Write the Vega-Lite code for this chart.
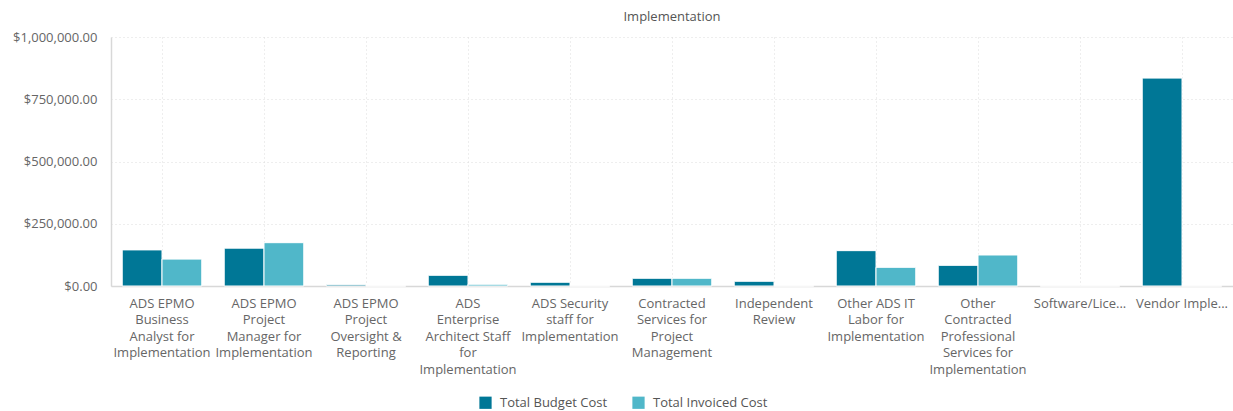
{
  "$schema": "https://vega.github.io/schema/vega-lite/v6.json",
  "autosize": {"type": "none"},
  "width": 1122,
  "height": 249,
  "padding": {"left": 111, "top": 37, "right": 0, "bottom": 125},
  "background": "white",
  "config": {
    "font": "Open Sans",
    "view": {"stroke": null}
  },
  "title": {
    "text": "Implementation",
    "anchor": "middle",
    "fontSize": 13,
    "fontWeight": "normal",
    "color": "#555555",
    "offset": 7
  },
  "data": {
    "values": [
      {"category": "ADS EPMO Business Analyst for Implementation", "series": "Total Budget Cost", "value": 145000},
      {"category": "ADS EPMO Business Analyst for Implementation", "series": "Total Invoiced Cost", "value": 108000},
      {"category": "ADS EPMO Project Manager for Implementation", "series": "Total Budget Cost", "value": 152000},
      {"category": "ADS EPMO Project Manager for Implementation", "series": "Total Invoiced Cost", "value": 174000},
      {"category": "ADS EPMO Project Oversight & Reporting", "series": "Total Budget Cost", "value": 5000},
      {"category": "ADS EPMO Project Oversight & Reporting", "series": "Total Invoiced Cost", "value": 0},
      {"category": "ADS Enterprise Architect Staff for Implementation", "series": "Total Budget Cost", "value": 43000},
      {"category": "ADS Enterprise Architect Staff for Implementation", "series": "Total Invoiced Cost", "value": 7000},
      {"category": "ADS Security staff for Implementation", "series": "Total Budget Cost", "value": 15000},
      {"category": "ADS Security staff for Implementation", "series": "Total Invoiced Cost", "value": 0},
      {"category": "Contracted Services for Project Management", "series": "Total Budget Cost", "value": 31000},
      {"category": "Contracted Services for Project Management", "series": "Total Invoiced Cost", "value": 31000},
      {"category": "Independent Review", "series": "Total Budget Cost", "value": 19000},
      {"category": "Independent Review", "series": "Total Invoiced Cost", "value": 0},
      {"category": "Other ADS IT Labor for Implementation", "series": "Total Budget Cost", "value": 142000},
      {"category": "Other ADS IT Labor for Implementation", "series": "Total Invoiced Cost", "value": 75000},
      {"category": "Other Contracted Professional Services for Implementation", "series": "Total Budget Cost", "value": 83000},
      {"category": "Other Contracted Professional Services for Implementation", "series": "Total Invoiced Cost", "value": 124500},
      {"category": "Software/Licenses", "series": "Total Budget Cost", "value": 0},
      {"category": "Software/Licenses", "series": "Total Invoiced Cost", "value": 0},
      {"category": "Vendor Implementation", "series": "Total Budget Cost", "value": 835000},
      {"category": "Vendor Implementation", "series": "Total Invoiced Cost", "value": 0}
    ]
  },
  "mark": {"type": "bar", "stroke": "white", "strokeWidth": 1},
  "encoding": {
    "x": {
      "field": "category",
      "type": "nominal",
      "sort": null,
      "title": null,
      "scale": {"paddingInner": 0.22, "paddingOuter": 0.11},
      "axis": {
        "labelAngle": 0,
        "labelFontSize": 13,
        "labelColor": "#666666",
        "labelPadding": 11,
        "labelLineHeight": 16.5,
        "labelBaseline": "top",
        "ticks": false,
        "domainColor": "#d8d8d8",
        "domainWidth": 1.5,
        "grid": true,
        "gridColor": "#dddddd",
        "gridDash": [1, 3],
        "labelLimit": 200,
        "labelExpr": "{'ADS EPMO Business Analyst for Implementation': ['ADS EPMO', 'Business', 'Analyst for', 'Implementation'], 'ADS EPMO Project Manager for Implementation': ['ADS EPMO', 'Project', 'Manager for', 'Implementation'], 'ADS EPMO Project Oversight & Reporting': ['ADS EPMO', 'Project', 'Oversight &', 'Reporting'], 'ADS Enterprise Architect Staff for Implementation': ['ADS', 'Enterprise', 'Architect Staff', 'for', 'Implementation'], 'ADS Security staff for Implementation': ['ADS Security', 'staff for', 'Implementation'], 'Contracted Services for Project Management': ['Contracted', 'Services for', 'Project', 'Management'], 'Independent Review': ['Independent', 'Review'], 'Other ADS IT Labor for Implementation': ['Other ADS IT', 'Labor for', 'Implementation'], 'Other Contracted Professional Services for Implementation': ['Other', 'Contracted', 'Professional', 'Services for', 'Implementation'], 'Software/Licenses': 'Software/Lice...', 'Vendor Implementation': 'Vendor Imple...'}[datum.label]"
      }
    },
    "xOffset": {"field": "series", "type": "nominal"},
    "y": {
      "field": "value",
      "type": "quantitative",
      "title": null,
      "scale": {"domain": [0, 1000000], "nice": false},
      "axis": {
        "values": [0, 250000, 500000, 750000, 1000000],
        "format": "$,.2f",
        "labelFontSize": 13,
        "labelColor": "#666666",
        "labelPadding": 14,
        "ticks": false,
        "domainColor": "#d8d8d8",
        "domainWidth": 1.5,
        "gridColor": "#dddddd",
        "gridDash": [1, 3]
      }
    },
    "color": {
      "field": "series",
      "type": "nominal",
      "title": null,
      "scale": {"domain": ["Total Budget Cost", "Total Invoiced Cost"], "range": ["#007796", "#50B7C9"]},
      "legend": {
        "orient": "none",
        "legendX": 368,
        "legendY": 359,
        "direction": "horizontal",
        "symbolType": "square",
        "symbolSize": 150,
        "symbolStrokeWidth": 0,
        "labelFontSize": 13,
        "labelColor": "#555555",
        "labelOffset": 8,
        "columnPadding": 24
      }
    }
  }
}
